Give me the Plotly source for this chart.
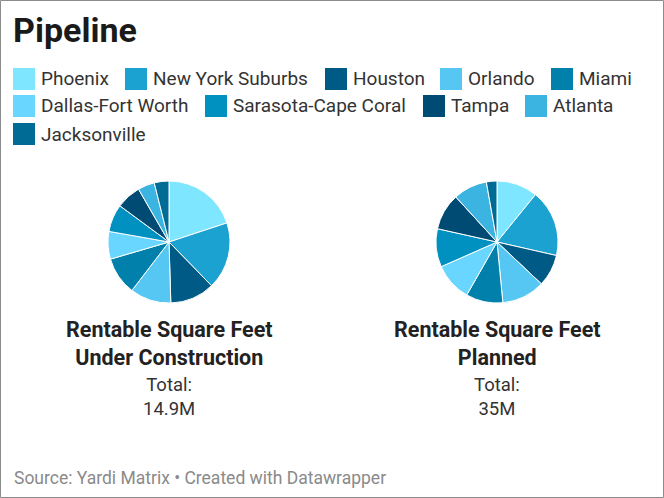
import plotly.graph_objects as go

# data (millions of rentable sq ft)
metros = ["Phoenix", "New York Suburbs", "Houston", "Orlando", "Miami",
          "Dallas-Fort Worth", "Sarasota-Cape Coral", "Tampa", "Atlanta",
          "Jacksonville"]
under_construction = [2.97, 2.65, 1.76, 1.62, 1.50, 1.09, 1.09, 0.98, 0.66, 0.58]
planned = [3.80, 6.20, 2.97, 4.00, 3.43, 3.54, 3.54, 3.40, 3.15, 0.98]
pie_titles = ["Rentable Square Feet<br>Under Construction",
              "Rentable Square Feet<br>Planned"]
totals = ["14.9M", "35M"]

colors = ["#7fe6ff", "#1ba2d0", "#005a86", "#56c7f3", "#0080aa",
          "#68d6ff", "#0091c0", "#004b74", "#3bb4e1", "#006c95"]

W, H = 664, 498
FONT = "Roboto"


def px(x):
    return x / W


def py(y):
    return 1 - y / H


fig = go.Figure()

pie_centers = [169, 497]
for i, (vals, cx) in enumerate(zip([under_construction, planned], pie_centers)):
    fig.add_trace(go.Pie(
        labels=metros, values=vals, sort=False, direction="clockwise",
        marker=dict(colors=colors, line=dict(color="white", width=1)),
        textinfo="none", hoverinfo="label+value", showlegend=False,
        domain=dict(x=[px(cx - 61), px(cx + 61)], y=[py(303), py(181)]),
    ))

annotations = [
    dict(text="<b>Pipeline</b>", x=px(11), y=py(30), xanchor="left", yanchor="middle",
         font=dict(size=34, color="#1a1a1a", family=FONT)),
    dict(text="Source: Yardi Matrix • Created with Datawrapper", x=px(12), y=py(478),
         xanchor="left", yanchor="middle", font=dict(size=17.5, color="#8a8a8a", family=FONT)),
]
for cx, t, tot in zip(pie_centers, pie_titles, totals):
    annotations.append(dict(text="<b>" + t + "</b>", x=px(cx), y=py(343), xanchor="center",
                            yanchor="middle", font=dict(size=21.5, color="#222", family=FONT)))
    annotations.append(dict(text="Total:<br>" + tot, x=px(cx), y=py(397), xanchor="center",
                            yanchor="middle", font=dict(size=18.5, color="#333", family=FONT)))

# legend laid out in rows as in the reference
legend_rows = [[0, 1, 2, 3, 4], [5, 6, 7, 8], [9]]
row_y = [79, 106, 134]
square_x = {0: 13, 1: 125, 2: 325, 3: 440, 4: 551,
            5: 13, 6: 205, 7: 423, 8: 525, 9: 13}
shapes = []
for row, yc in zip(legend_rows, row_y):
    for k in row:
        x0 = square_x[k]
        shapes.append(dict(type="rect", xref="paper", yref="paper",
                           x0=px(x0), x1=px(x0 + 22), y0=py(yc + 11), y1=py(yc - 11),
                           fillcolor=colors[k], line=dict(width=0)))
        annotations.append(dict(text=metros[k], x=px(x0 + 26), y=py(yc), xanchor="left",
                                yanchor="middle", font=dict(size=19, color="#333", family=FONT)))

shapes.append(dict(type="rect", xref="paper", yref="paper",
                   x0=px(0.5), x1=px(W - 0.5), y0=py(H - 0.5), y1=py(0.5),
                   line=dict(color="#8c8c8c", width=1)))

for a in annotations:
    a.update(xref="paper", yref="paper", showarrow=False)

fig.update_layout(
    width=W, height=H, margin=dict(l=0, r=0, t=0, b=0),
    paper_bgcolor="white", plot_bgcolor="white",
    annotations=annotations, shapes=shapes,
    font=dict(family=FONT),
)

fig.write_html("out.html", config={"displayModeBar": False},
               post_script="document.body.style.margin='0px';")
